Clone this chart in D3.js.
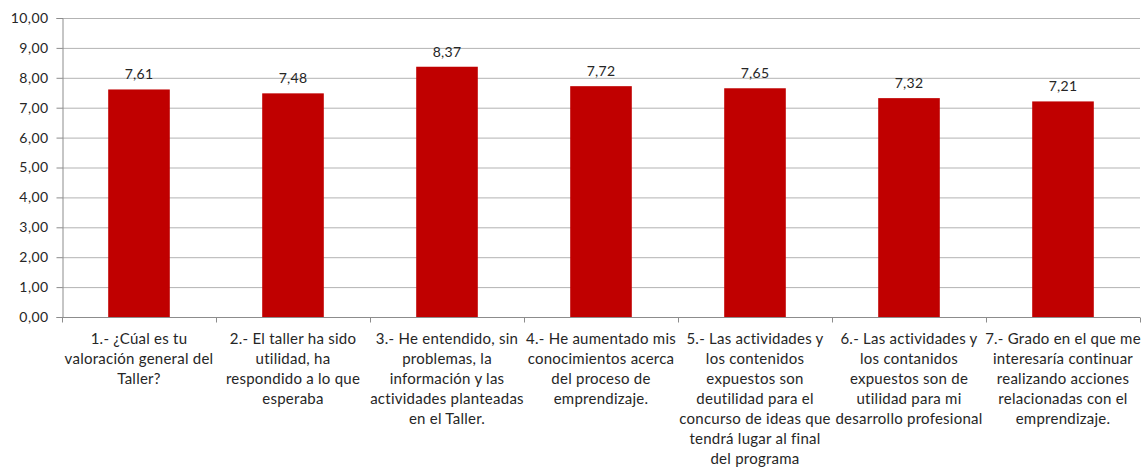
<!DOCTYPE html>
<html>
<head>
<meta charset="utf-8">
<script src="https://cdn.jsdelivr.net/npm/d3@7"></script>
<style>
  body { margin: 0; background: #fff; }
  text { font-family: Lato, "Open Sans", sans-serif; fill: #262626; }
</style>
</head>
<body>
<div id="chart"></div>
<script>
// categories, one array of lines per category (line breaks as in the original)
const categories = ["q1", "q2", "q3", "q4", "q5", "q6", "q7"];
const categoryLines = [
  ["1.- ¿Cúal es tu", "valoración general del", "Taller?"],
  ["2.- El taller ha sido", "utilidad, ha", "respondido a lo que", "esperaba"],
  ["3.- He entendido, sin", "problemas, la", "información y las", "actividades planteadas", "en el Taller."],
  ["4.- He aumentado mis", "conocimientos acerca", "del proceso de", "emprendizaje."],
  ["5.- Las actividades y", "los contenidos", "expuestos son", "deutilidad para el", "concurso de ideas que", "tendrá lugar al final", "del programa"],
  ["6.- Las actividades y", "los contanidos", "expuestos son de", "utilidad para mi", "desarrollo profesional"],
  ["7.- Grado en el que me", "interesaría continuar", "realizando acciones", "relacionadas con el", "emprendizaje."]
];
const values = [7.61, 7.48, 8.37, 7.72, 7.65, 7.32, 7.21];
const yTicks = [0, 1, 2, 3, 4, 5, 6, 7, 8, 9, 10];

const w = 1141, h = 467;
const margin = { top: 18, right: 1, bottom: 150, left: 62 };
const innerWidth = w - margin.left - margin.right;
const innerHeight = h - margin.top - margin.bottom;

const fmt = v => d3.format(".2f")(v).replace(".", ",");

const svg = d3.select("#chart").append("svg")
  .attr("width", w)
  .attr("height", h);

const g = svg.append("g")
  .attr("transform", `translate(${margin.left},${margin.top})`);

const xScale = d3.scaleBand()
  .domain(categories)
  .range([0, innerWidth])
  .paddingInner(0.6)
  .paddingOuter(0.3);

const yScale = d3.scaleLinear()
  .domain([0, 10])
  .range([innerHeight, 0]);

// gridlines
g.append("g")
  .selectAll("line")
  .data(yTicks.slice(1))
  .enter()
  .append("line")
  .attr("x1", 0)
  .attr("x2", innerWidth)
  .attr("y1", d => yScale(d) + 0.5)
  .attr("y2", d => yScale(d) + 0.5)
  .attr("stroke", "#b3b3b3")
  .attr("stroke-width", 1);

// y axis
const yAxisG = g.append("g")
  .call(d3.axisLeft(yScale).tickValues(yTicks).tickFormat(fmt).tickSize(6).tickPadding(8))
  .attr("transform", "translate(0.5,0)");
yAxisG.selectAll("path, line").attr("stroke", "#8c8c8c");
yAxisG.selectAll("text")
  .style("font-size", "14px")
  .style("letter-spacing", "0.4px")
  .attr("fill", "#262626");

// x axis: ticks at category boundaries
const boundaries = d3.range(categories.length + 1).map(i => i * innerWidth / categories.length);
const xAxisG = g.append("g")
  .attr("transform", `translate(0,${innerHeight + 0.5})`);
xAxisG.append("line")
  .attr("x1", 0).attr("x2", innerWidth)
  .attr("stroke", "#8c8c8c");
xAxisG.selectAll(".tick")
  .data(boundaries)
  .enter()
  .append("line")
  .attr("x1", d => Math.round(d) + 0.5)
  .attr("x2", d => Math.round(d) + 0.5)
  .attr("y1", 0)
  .attr("y2", 5)
  .attr("stroke", "#8c8c8c");

// bars
g.selectAll("rect.bar")
  .data(values)
  .enter()
  .append("rect")
  .attr("class", "bar")
  .attr("x", (d, i) => xScale(categories[i]))
  .attr("y", d => yScale(d))
  .attr("width", xScale.bandwidth())
  .attr("height", d => innerHeight - yScale(d))
  .attr("fill", "#c00000");

// value labels
g.selectAll("text.val")
  .data(values)
  .enter()
  .append("text")
  .attr("class", "val")
  .attr("x", (d, i) => xScale(categories[i]) + xScale.bandwidth() / 2)
  .attr("y", d => yScale(d) - 10)
  .attr("text-anchor", "middle")
  .style("font-size", "14px")
  .style("letter-spacing", "0.3px")
  .text(fmt);

// category labels
const catG = g.selectAll("text.cat")
  .data(categoryLines)
  .enter()
  .append("text")
  .attr("class", "cat")
  .attr("text-anchor", "middle")
  .attr("transform", (d, i) => `translate(${xScale(categories[i]) + xScale.bandwidth() / 2},${innerHeight + 27})`)
  .style("font-size", "15px")
  .style("letter-spacing", "0.25px");
catG.selectAll("tspan")
  .data(d => d)
  .enter()
  .append("tspan")
  .attr("x", 0)
  .attr("y", (d, i) => i * 20)
  .text(d => d);
</script>
</body>
</html>
